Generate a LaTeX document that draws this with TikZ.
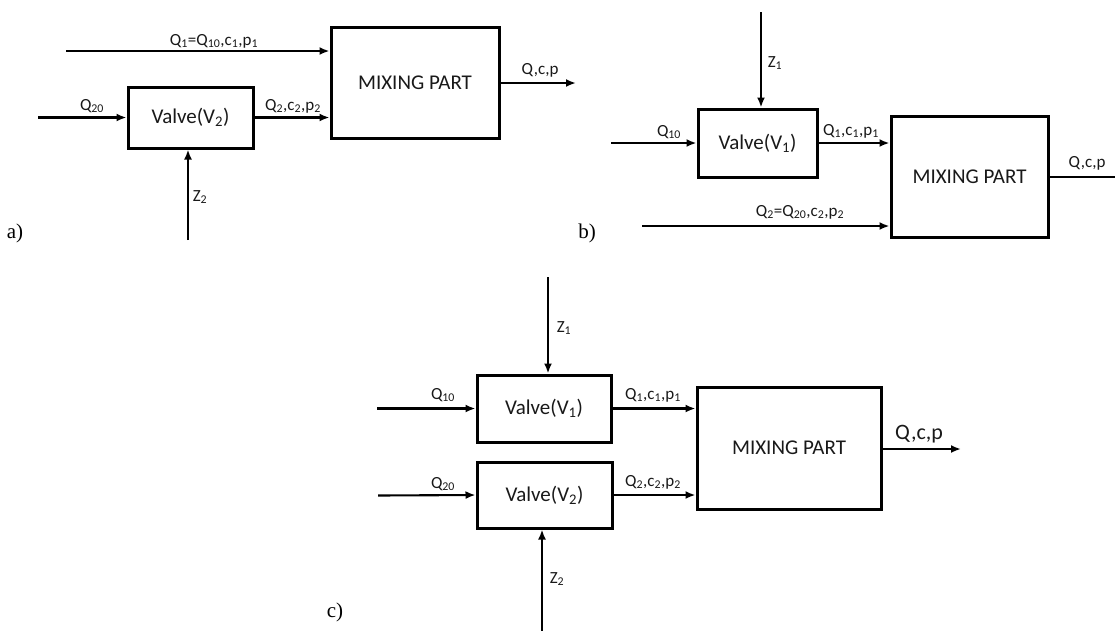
\documentclass[tikz,border=0pt]{standalone}
\usepackage{fontspec}
\setmainfont{Carlito}
\newfontfamily\tagfont{Liberation Serif}
\usetikzlibrary{arrows.meta}
\tikzset{
  blk/.style={draw, line width=3pt, inner sep=0pt, text=black!90, font=\fontsize{21}{25}\selectfont},
  flow/.style={line width=2.1pt, -{Latex[length=10pt,width=8pt]}},
  plain/.style={line width=2.1pt},
  lbl/.style={inner sep=0pt, text=black!90, font=\fontsize{17}{20}\selectfont},
  biglbl/.style={inner sep=0pt, text=black!90, font=\fontsize{22}{26}\selectfont},
  tag/.style={inner sep=0pt, font=\tagfont\fontsize{21}{24}\selectfont},
}
\newcommand\sbs[1]{\textsubscript{#1}}
\begin{document}
\begin{tikzpicture}[x=1pt,y=-1pt]
\useasboundingbox (0,0) rectangle (1115,630);

% ---------------- panel a ----------------
\node[blk, minimum width=168pt, minimum height=111pt] (mixA) at (415,82.5) {MIXING PART};
\node[blk, minimum width=125pt, minimum height=61pt] (valA) at (190.5,117.5) {Valve(V\sbs{2})};
\coordinate (aIn1) at (66,51);
\coordinate (aIn2) at (38,117.5);
\coordinate (aZ) at (188,240);
\coordinate (aOut) at (576,83);
\draw[flow] (aIn1) -- (aIn1 -| mixA.west);
\draw[flow] (aIn2) -- (valA.west);
\draw[flow] (valA.east) -- (valA.east -| mixA.west);
\draw[flow] (aZ) -- (aZ |- valA.south);
\draw[flow] (aOut -| mixA.east) -- (aOut);
\node[lbl] (la1) at (214,41) {Q\sbs{1}=Q\sbs{10},c\sbs{1},p\sbs{1}};
\node[lbl] (la2) at (92,106) {Q\sbs{20}};
\node[lbl] (la3) at (293,106) {Q\sbs{2},c\sbs{2},p\sbs{2}};
\node[lbl] (la4) at (200,197) {Z\sbs{2}};
\node[lbl] (la5) at (540,70) {Q,c,p};
\node[tag] (ta) at (15,233) {a)};

% ---------------- panel b ----------------
\node[blk, minimum width=119pt, minimum height=68pt] (valB) at (757.5,143) {Valve(V\sbs{1})};
\node[blk, minimum width=157pt, minimum height=121pt] (mixB) at (969.5,176.5) {MIXING PART};
\coordinate (bZ) at (761,12);
\coordinate (bIn1) at (611,143);
\coordinate (bIn2) at (642,226);
\coordinate (bOut) at (1116,177);
\draw[flow] (bZ) -- (bZ |- valB.north);
\draw[flow] (bIn1) -- (valB.west);
\draw[flow] (valB.east) -- (valB.east -| mixB.west);
\draw[flow] (bIn2) -- (bIn2 -| mixB.west);
\draw[plain] (bOut -| mixB.east) -- (bOut);
\node[lbl] (lb1) at (775,63) {Z\sbs{1}};
\node[lbl] (lb2) at (669,132) {Q\sbs{10}};
\node[lbl] (lb3) at (851,131) {Q\sbs{1},c\sbs{1},p\sbs{1}};
\node[lbl] (lb4) at (800,212) {Q\sbs{2}=Q\sbs{20},c\sbs{2},p\sbs{2}};
\node[lbl] (lb5) at (1087,163) {Q,c,p};
\node[tag] (tb) at (587,233) {b)};

% ---------------- panel c ----------------
\node[blk, minimum width=134pt, minimum height=67pt] (valC1) at (544,408.5) {Valve(V\sbs{1})};
\node[blk, minimum width=135pt, minimum height=66pt] (valC2) at (544.5,495) {Valve(V\sbs{2})};
\node[blk, minimum width=184pt, minimum height=122pt] (mixC) at (789,448) {MIXING PART};
\coordinate (cZ1) at (548,277);
\coordinate (cZ2) at (542,631);
\coordinate (cIn1) at (377,408.5);
\coordinate (cIn2) at (378,495.5);
\coordinate (cOut) at (961,449);
\draw[flow] (cZ1) -- (cZ1 |- valC1.north);
\draw[flow] (cZ2) -- (cZ2 |- valC2.south);
\draw[flow] (cIn1) -- (valC1.west);
\draw[flow] (cIn2) -- (valC2.west);
\draw[flow] (valC1.east) -- (valC1.east -| mixC.west);
\draw[flow] (valC2.east) -- (valC2.east -| mixC.west);
\draw[flow] (cOut -| mixC.east) -- (cOut);
\node[lbl] (lc1) at (564,328) {Z\sbs{1}};
\node[lbl] (lc2) at (557,579) {Z\sbs{2}};
\node[lbl] (lc3) at (443,395) {Q\sbs{10}};
\node[lbl] (lc4) at (443,484) {Q\sbs{20}};
\node[lbl] (lc5) at (653,395) {Q\sbs{1},c\sbs{1},p\sbs{1}};
\node[lbl] (lc6) at (653,482) {Q\sbs{2},c\sbs{2},p\sbs{2}};
\node[biglbl] (lc7) at (919,434) {Q,c,p};
\node[tag] (tc) at (335,612) {c)};
\end{tikzpicture}
\end{document}
